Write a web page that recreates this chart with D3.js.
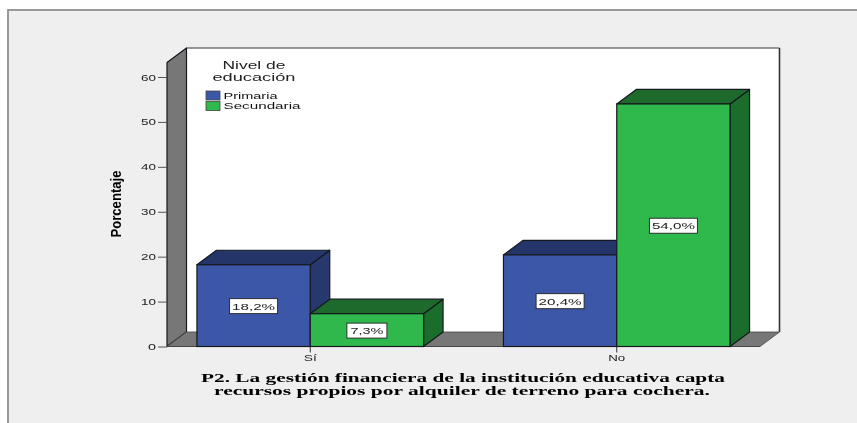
<!DOCTYPE html>
<html><head><meta charset="utf-8">
<script src="https://cdnjs.cloudflare.com/ajax/libs/d3/7.8.5/d3.min.js"></script>
<style>html,body{margin:0;padding:0;background:#fff;overflow:hidden}svg{display:block;filter:blur(0.75px)}</style>
</head><body><svg id="c" width="857" height="423"></svg>
<script>
const categories = ["Sí", "No"];
const seriesNames = ["Primaria", "Secundaria"];
const primaria = [18.2, 20.4];
const secundaria = [7.3, 54.0];
const valueLabels = [["18,2%", "20,4%"], ["7,3%", "54,0%"]];
const yTicks = [0, 10, 20, 30, 40, 50, 60];
const frontColors = ["#3d57a8", "#2fb84b"];
const topColors = ["#243669", "#1e6a2c"];
const sideColors = ["#26386e", "#1b6d2c"];
const titleLines = ["P2. La gestión financiera de la institución educativa capta", "recursos propios por alquiler de terreno para cochera."];
const legendTitle = ["Nivel de", "educación"];

const svg = d3.select("#c");
const root = svg.append("g");

root.append("rect").attr("x",0).attr("y",0).attr("width",857).attr("height",423).attr("fill","#fff");
root.append("rect").attr("x",8).attr("y",10).attr("width",860).attr("height",430).attr("fill","#efefef").attr("stroke","#8f8f8f").attr("stroke-width",1.8);

const y = d3.scaleLinear().domain([0,60]).range([346.5,77]);
const x0 = d3.scaleBand().domain(categories).range([157,770]).padding(0);
const x1 = d3.scaleBand().domain([0,1]).range([-113.3,113.3]);
const center = c => x0(c)+x0.bandwidth()/2;
const dx = 19.5, dy = -14.5;
const frontL = 167, frontR = 760, topY = 62.5, baseY = y(0);
const ln = "#15181c";

const poly = (pts, fill, sw=1.2, st=ln) => root.append("polygon").attr("points",pts.map(p=>p.join(",")).join(" ")).attr("fill",fill).attr("stroke",st).attr("stroke-width",sw).attr("stroke-linejoin","round");
poly([[frontL+dx,topY+dy],[frontR+dx,topY+dy],[frontR+dx,baseY+dy],[frontL+dx,baseY+dy]],"#fff",0);
root.append("path").attr("d",`M${frontL+dx},${topY+dy}H${frontR+dx}`).attr("stroke","#777").attr("stroke-width",1.6).attr("fill","none");
root.append("path").attr("d",`M${frontR+dx},${topY+dy}V${baseY+dy}`).attr("stroke","#333").attr("stroke-width",1.6).attr("fill","none");
poly([[frontL,topY],[frontL+dx,topY+dy],[frontL+dx,baseY+dy],[frontL,baseY]],"#777");
poly([[frontL,baseY],[frontL+dx,baseY+dy],[frontR+dx,baseY+dy],[frontR,baseY]],"#777",0.8,"#444");

const axis = d3.axisLeft(y).tickValues(yTicks).tickSize(9).tickPadding(2);
const ag = root.append("g").attr("transform",`translate(${frontL},0)`).call(axis);
ag.select(".domain").remove();
ag.selectAll("line").attr("stroke","#555").attr("stroke-width",1);
ag.selectAll("text").attr("font-family","Liberation Sans").attr("font-size",9.5).attr("fill","#222")
  .attr("lengthAdjust","spacingAndGlyphs").attr("textLength",d=>d===0?8:15);
root.append("path").attr("d",`M${frontL},${baseY}H${frontR}`).attr("stroke","#444").attr("stroke-width",1);

const rows = [];
categories.forEach((c,ci)=>{ [primaria,secundaria].forEach((s,si)=>rows.push({c,ci,si,v:s[ci]})); });
const barW = x1.bandwidth();
rows.forEach(d=>{
  const l = center(d.c)+x1(d.si), r = l+barW, t = y(d.v);
  poly([[r,t],[r+dx,t+dy],[r+dx,baseY+dy],[r,baseY]],sideColors[d.si]);
  poly([[l,t],[l+dx,t+dy],[r+dx,t+dy],[r,t]],topColors[d.si]);
  root.append("rect").attr("x",l).attr("y",t).attr("width",barW).attr("height",baseY-t).attr("fill",frontColors[d.si]).attr("stroke",ln).attr("stroke-width",1.2);
});
rows.forEach(d=>{
  const l = center(d.c)+x1(d.si), t = y(d.v), cx = l+barW/2, cy = (t+baseY)/2+0.5;
  const w = d.v<10?40:48;
  root.append("rect").attr("x",cx-w/2).attr("y",cy-7.5).attr("width",w).attr("height",15).attr("fill","#fff").attr("stroke","#222").attr("stroke-width",0.9);
  root.append("text").attr("x",cx).attr("y",cy+3.5).attr("text-anchor","middle").attr("font-family","Liberation Sans").attr("font-size",9.5).attr("fill","#222")
    .attr("textLength",d.v<10?33:43).attr("lengthAdjust","spacingAndGlyphs").text(valueLabels[d.si][d.ci]);
});

categories.forEach(c=>{
  const cx = center(c);
  root.append("path").attr("d",`M${cx},${baseY}v6`).attr("stroke","#333").attr("stroke-width",1);
  root.append("text").attr("x",cx).attr("y",361).attr("text-anchor","middle").attr("font-family","Liberation Sans").attr("font-size",9.5).attr("fill","#222")
    .attr("textLength",c==="No"?17:13).attr("lengthAdjust","spacingAndGlyphs").text(c);
});

root.append("text").attr("transform","translate(121,204) rotate(-90)").attr("text-anchor","middle").attr("font-family","Liberation Sans").attr("font-weight","bold").attr("font-size",14.5).attr("fill","#000")
  .attr("textLength",67).attr("lengthAdjust","spacingAndGlyphs").text("Porcentaje");

[[titleLines[0],463,382,524],[titleLines[1],462,395,496]].forEach(([t,cx,yy,w])=>{
  root.append("text").attr("x",cx).attr("y",yy).attr("text-anchor","middle").attr("font-family","Liberation Serif").attr("font-weight","bold").attr("font-size",11.5).attr("fill","#000")
    .attr("textLength",w).attr("lengthAdjust","spacingAndGlyphs").text(t);
});

[[legendTitle[0],254,69,63],[legendTitle[1],254,81,83]].forEach(([t,cx,yy,w])=>{
  root.append("text").attr("x",cx).attr("y",yy).attr("text-anchor","middle").attr("font-family","Liberation Sans").attr("font-size",10).attr("fill","#222")
    .attr("textLength",w).attr("lengthAdjust","spacingAndGlyphs").text(t);
});
seriesNames.forEach((s,i)=>{
  const yy = 95.5+i*10.5;
  root.append("rect").attr("x",206).attr("y",yy-4.5).attr("width",14).attr("height",9).attr("fill",frontColors[i]).attr("stroke","#444").attr("stroke-width",0.8);
  root.append("text").attr("x",223.5).attr("y",yy+3).attr("font-family","Liberation Sans").attr("font-size",9).attr("fill","#111")
    .attr("textLength",i?77:54).attr("lengthAdjust","spacingAndGlyphs").text(s);
});
</script></body></html>
